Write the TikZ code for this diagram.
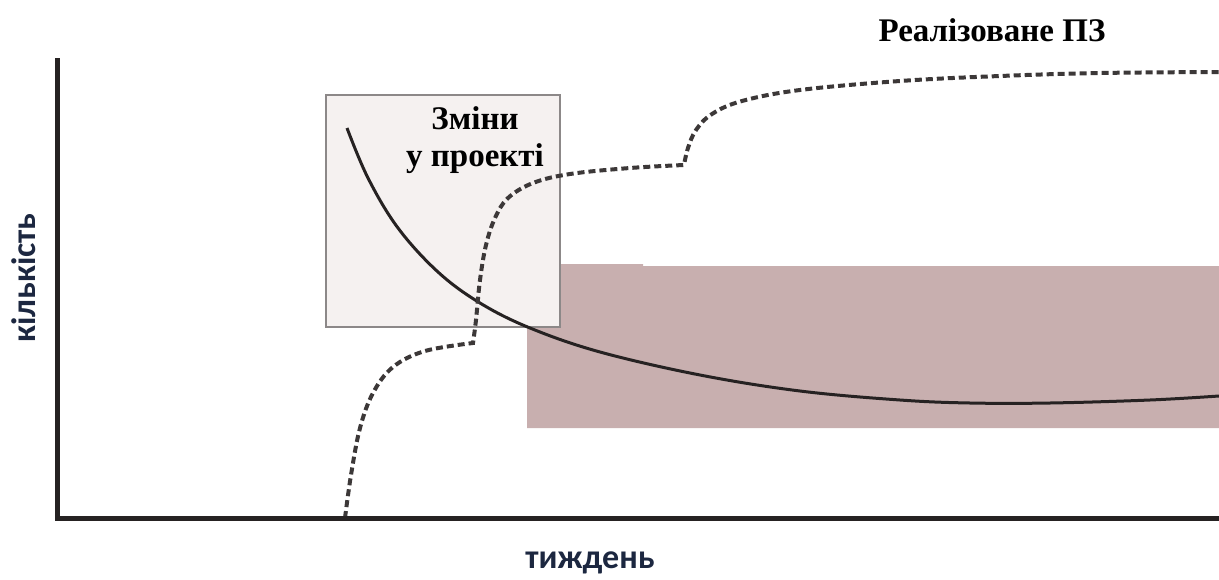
\documentclass[tikz,border=0pt]{standalone}
\usepackage{fontspec}
\setmainfont{Liberation Serif}
\newfontfamily\labfont{Carlito}
\definecolor{shadecol}{HTML}{C8AFAF}
\definecolor{boxfill}{HTML}{F5F1F0}
\definecolor{boxedge}{HTML}{8C8888}
\definecolor{ink}{HTML}{262222}
\definecolor{navy}{HTML}{1C2740}
\tikzset{
  axis/.style={line width=5pt, ink, line join=miter},
  trend/.style={line width=3pt, ink},
  impl/.style={line width=4pt, ink!90, dash pattern=on 7pt off 4pt},
  serif/.style={font=\bfseries\fontsize{33}{37}\selectfont, text=black, inner sep=0pt},
  axlabel/.style={font=\labfont\bfseries\fontsize{34}{38}\selectfont, text=navy, inner sep=0pt}
}
\begin{document}
\begin{tikzpicture}[x=1pt,y=-1pt]
\useasboundingbox (0,0) rectangle (1219,579);
% shaded region
\fill[shadecol] (527,264) -- (643,264) -- (643,266) -- (1219,266) -- (1219,428) -- (527,428) -- cycle;
% change box
\node[draw=boxedge, fill=boxfill, line width=1.5pt, minimum width=234pt, minimum height=232pt, inner sep=0pt] (box) at (443,211) {};
\node[serif, align=center] (chg) at (475,140) {Зміни\\у проекті};
% solid curve
\draw[trend] plot[smooth, tension=0.6] coordinates {(347,128) (368,178) (398,228) (438,272) (480,303) (530,328) (600,352) (700,375) (800,391) (900,400) (970,403) (1050,403) (1150,400) (1219,396)};
% dashed curve
\draw[impl] plot[smooth, tension=0.6] coordinates {(345,518) (351,475) (360,428) (373,393) (393,367) (425,351) (473,343)}
  -- plot[smooth, tension=0.6] coordinates {(473,343) (476,320) (480,280) (486,245) (495,218) (508,198) (533,183) (570,174) (630,168) (684,165)}
  -- plot[smooth, tension=0.6] coordinates {(684,165) (688,148) (696,130) (712,114) (742,101) (800,90) (900,81) (1000,76) (1100,73) (1219,72)};
% axes
\coordinate (ytop) at (57,58);
\coordinate (origin) at (57,518);
\coordinate (xend) at (1219,518);
\draw[axis] (ytop) -- (origin) -- (xend);
% labels
\node[serif] (impl) at (992,30) {Реалізоване ПЗ};
\node[axlabel, rotate=90] (ylab) at (24,278) {кількість};
\node[axlabel] (xlab) at (590,563) {тиждень};
\end{tikzpicture}
\end{document}
